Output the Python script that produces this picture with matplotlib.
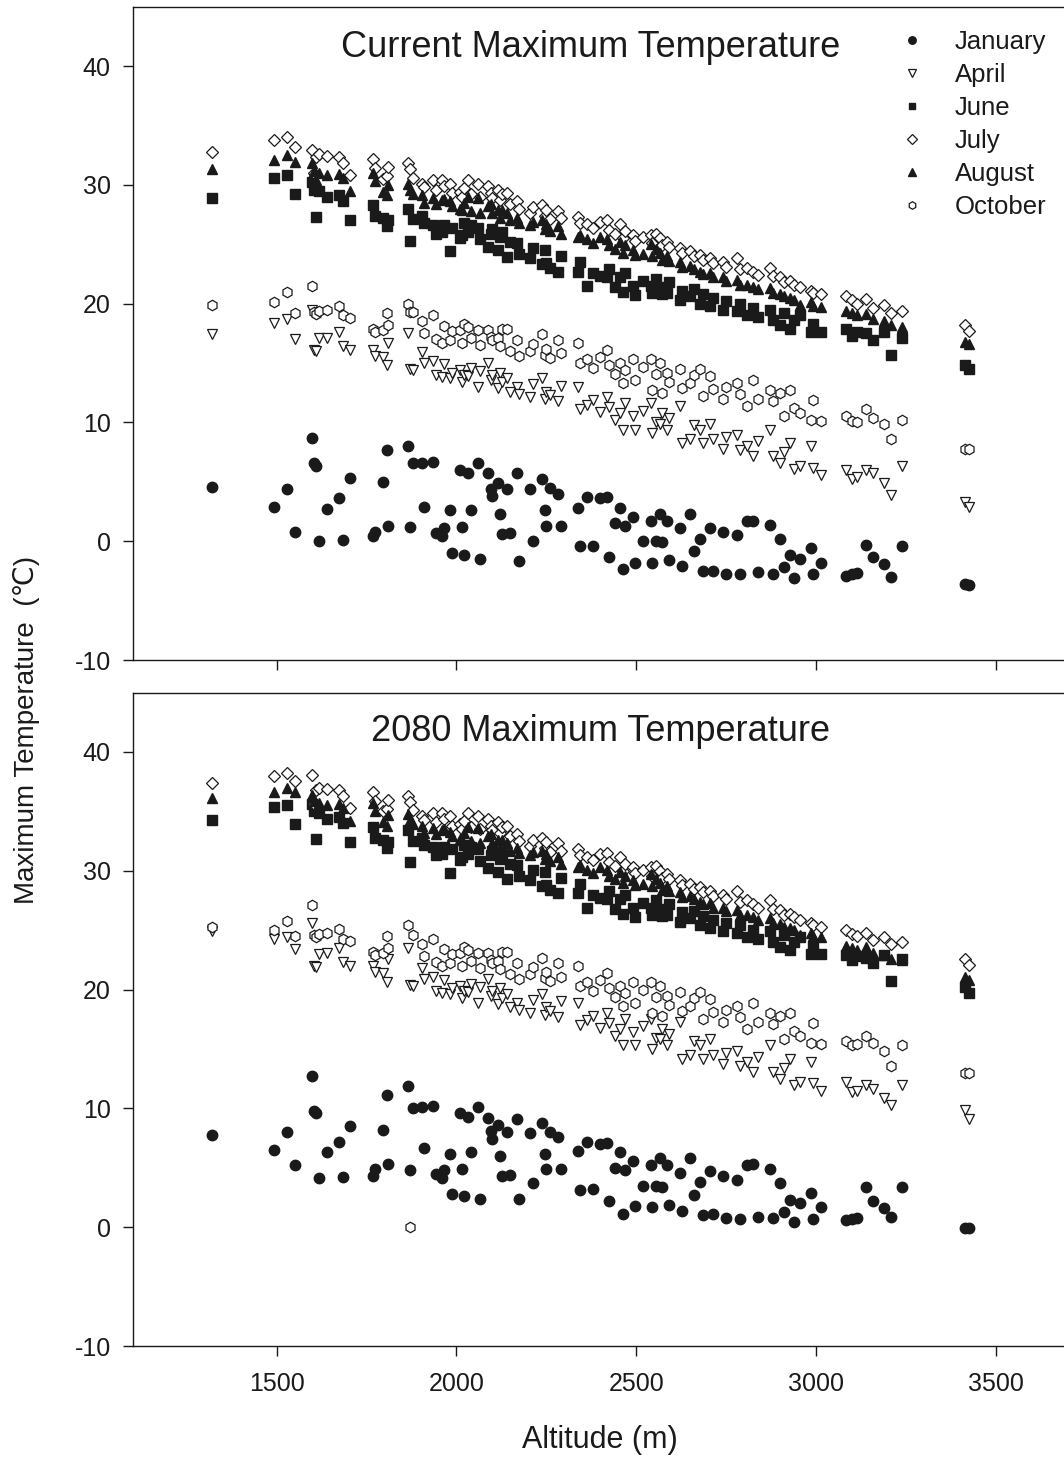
import matplotlib
matplotlib.use("Agg")
import matplotlib.pyplot as plt

plt.rcParams['font.family'] = ['Liberation Sans', 'DejaVu Sans']
plt.rcParams['axes.unicode_minus'] = False

# station altitudes (m), shared by every month and both panels
altitude = [1320, 1492, 1528, 1550, 1598, 1603, 1608, 1617, 1640, 1673,
            1684, 1703, 1767, 1772, 1795, 1806, 1810, 1865, 1870, 1879,
            1903, 1910, 1935, 1942, 1959, 1965, 1982, 1988, 2010, 2015,
            2020, 2032, 2040, 2060, 2066, 2088, 2095, 2100, 2116, 2122,
            2128, 2140, 2150, 2168, 2175, 2205, 2212, 2238, 2245, 2250,
            2260, 2283, 2290, 2339, 2345, 2364, 2380, 2400, 2419, 2425,
            2440, 2455, 2462, 2470, 2492, 2498, 2520, 2540, 2545, 2555,
            2567, 2572, 2586, 2592, 2622, 2628, 2650, 2660, 2678, 2685,
            2706, 2715, 2742, 2750, 2780, 2788, 2808, 2826, 2840, 2873,
            2880, 2901, 2910, 2929, 2940, 2957, 2985, 2992, 3013,
            3085, 3100, 3115, 3140, 3160, 3190, 3210, 3240,
            3415, 3425]

# ---- current maximum temperature ----
jan_now = [4.6, 2.9, 4.4, 0.8, 8.7, 6.6, 6.3, 0.0, 2.7, 3.6,
           0.1, 5.3, 0.4, 0.8, 5.0, 7.7, 1.3, 8.0, 1.2, 6.6,
           6.6, 2.9, 6.7, 0.7, 0.4, 1.1, 2.6, -1.0, 6.0, 1.2,
           -1.2, 5.7, 2.6, 6.6, -1.5, 5.7, 4.4, 3.8, 4.9, 2.3,
           0.6, 4.4, 0.7, 5.7, -1.7, 4.4, 0.0, 5.2, 2.6, 1.3,
           4.5, 4.0, 1.3, 2.8, -0.4, 3.7, -0.4, 3.6, 3.7, -1.3,
           1.5, 2.8, -2.3, 1.3, 2.0, -1.8, 0.0, 1.7, -1.8, 0.0,
           2.3, -0.1, 1.7, -1.6, 1.1, -2.1, 2.3, -0.8, 0.2, -2.5,
           1.1, -2.5, 0.8, -2.8, 0.5, -2.8, 1.7, 1.7, -2.6, 1.4,
           -2.8, 0.2, -2.2, -1.2, -3.1, -1.5, -0.6, -2.8, -1.8,
           -2.9, -2.8, -2.7, -0.3, -1.3, -1.9, -3.0, -0.4,
           -3.6, -3.7]
apr_now = [17.4, 18.4, 18.7, 17.0, 19.5, 16.1, 16.0, 17.1, 17.1, 17.6,
           16.4, 16.1, 16.1, 15.6, 15.5, 14.8, 16.7, 17.5, 14.5, 14.4,
           15.9, 15.0, 15.2, 14.0, 13.8, 14.9, 13.7, 14.2, 14.4, 13.4,
           14.0, 13.9, 14.6, 13.0, 14.3, 15.0, 13.6, 14.0, 12.9, 14.2,
           13.4, 13.7, 12.6, 13.0, 12.4, 12.1, 13.2, 13.7, 12.0, 12.6,
           12.3, 11.8, 13.1, 13.0, 11.1, 11.5, 11.9, 10.9, 12.1, 11.3,
           10.2, 10.8, 9.4, 11.6, 10.5, 9.4, 11.0, 11.6, 9.1, 10.0,
           9.9, 10.8, 9.4, 10.4, 11.4, 8.3, 8.6, 9.8, 9.4, 8.3,
           9.9, 8.6, 7.8, 8.8, 8.9, 7.7, 8.0, 7.2, 8.4, 9.4,
           7.2, 6.6, 7.5, 8.3, 6.1, 6.3, 8.0, 6.2, 5.6,
           6.0, 5.2, 5.4, 6.0, 5.7, 4.9, 3.9, 6.3,
           3.3, 2.9]
jun_now = [28.9, 30.6, 30.8, 29.2, 30.2, 29.6, 27.3, 29.5, 29.0, 29.1,
           28.6, 27.0, 28.3, 27.4, 27.2, 26.5, 27.0, 28.0, 25.3, 27.1,
           27.4, 26.8, 26.6, 25.9, 26.0, 26.6, 24.4, 26.4, 25.5, 25.8,
           26.8, 26.0, 26.6, 26.4, 25.4, 24.8, 25.9, 26.3, 24.5, 25.6,
           26.0, 23.9, 25.2, 25.1, 24.2, 23.8, 24.7, 23.3, 24.5, 23.4,
           23.0, 22.7, 24.0, 22.7, 23.5, 21.5, 22.6, 22.3, 22.2, 22.9,
           21.4, 22.2, 21.0, 22.6, 21.5, 20.7, 21.9, 21.5, 20.9, 22.1,
           21.4, 20.8, 20.9, 21.8, 20.3, 21.1, 20.6, 21.2, 20.0, 20.8,
           19.8, 20.5, 19.5, 20.2, 19.4, 20.0, 19.0, 19.6, 18.9, 19.5,
           18.6, 18.2, 19.2, 17.9, 18.6, 19.0, 17.6, 18.3, 17.6,
           17.9, 17.3, 17.6, 17.5, 16.9, 17.6, 15.7, 17.1,
           14.8, 14.5]
jul_now = [32.8, 33.8, 34.0, 33.2, 32.9, 31.0, 32.3, 32.6, 32.4, 32.3,
           31.8, 30.8, 32.2, 31.4, 30.5, 30.7, 31.5, 31.8, 31.3, 30.6,
           30.1, 29.8, 30.4, 29.6, 30.4, 29.9, 30.1, 29.3, 29.4, 29.0,
           29.7, 30.4, 29.2, 30.1, 29.0, 29.9, 29.3, 28.9, 29.6, 28.7,
           29.2, 29.3, 28.4, 28.6, 28.0, 27.6, 28.1, 28.3, 27.4, 27.9,
           27.1, 27.8, 27.2, 27.3, 26.8, 26.7, 26.4, 26.9, 27.0, 26.2,
           25.9, 26.7, 25.5, 26.1, 25.8, 25.3, 25.6, 25.8, 25.1, 25.9,
           25.5, 24.9, 25.2, 24.8, 24.7, 24.3, 24.4, 24.0, 24.1, 23.7,
           23.8, 23.4, 23.5, 23.1, 23.8, 22.9, 23.0, 22.7, 22.4, 23.0,
           22.3, 22.2, 21.8, 21.9, 21.6, 21.4, 21.1, 20.9, 20.8,
           20.6, 20.3, 20.0, 20.4, 19.6, 19.9, 19.2, 19.4,
           18.2, 17.7]
aug_now = [31.3, 32.1, 32.5, 31.9, 31.8, 31.2, 30.4, 31.0, 30.8, 30.9,
           30.6, 29.5, 31.0, 30.3, 29.4, 29.1, 30.0, 30.1, 29.6, 29.2,
           29.1, 28.5, 28.9, 28.4, 28.7, 28.8, 28.6, 28.2, 28.0, 27.9,
           28.5, 29.0, 27.8, 28.9, 27.6, 28.2, 28.4, 27.6, 27.9, 27.2,
           27.9, 27.6, 27.0, 27.2, 26.8, 26.6, 26.9, 27.0, 26.3, 26.7,
           26.1, 26.5, 25.9, 25.6, 25.8, 25.4, 25.1, 25.6, 25.4, 24.9,
           24.6, 25.2, 24.3, 24.9, 24.5, 24.1, 24.2, 25.0, 24.0, 24.6,
           24.3, 23.7, 24.0, 23.6, 23.5, 23.1, 23.2, 22.9, 22.7, 22.5,
           22.6, 22.2, 22.2, 21.9, 22.0, 21.6, 21.6, 21.4, 21.2, 21.3,
           20.9, 20.8, 20.6, 20.5, 20.3, 19.9, 20.1, 19.8, 19.7,
           19.4, 19.2, 19.0, 19.1, 18.7, 18.5, 18.2, 18.0,
           16.8, 16.6]
oct_now = [19.9, 20.1, 21.0, 19.2, 21.5, 19.3, 19.1, 19.4, 19.5, 19.8,
           19.0, 18.8, 17.9, 17.6, 17.8, 19.2, 18.2, 20.0, 19.3, 19.3,
           18.5, 17.5, 19.0, 17.0, 16.7, 18.1, 16.9, 17.7, 17.8, 16.7,
           18.3, 18.0, 17.1, 17.8, 16.5, 17.8, 17.2, 16.9, 17.1, 16.4,
           17.9, 17.9, 16.0, 16.9, 15.6, 16.0, 16.6, 17.4, 15.7, 16.2,
           15.4, 16.9, 15.8, 16.7, 15.0, 15.3, 14.6, 15.5, 16.1, 14.8,
           14.1, 15.0, 13.3, 14.4, 15.3, 13.6, 14.7, 15.3, 12.7, 14.1,
           15.0, 12.5, 14.2, 13.4, 14.5, 12.9, 13.3, 14.0, 14.5, 12.2,
           13.9, 12.8, 12.0, 13.0, 13.3, 12.4, 11.4, 13.6, 12.0, 12.7,
           11.8, 12.5, 10.5, 12.7, 11.2, 10.8, 10.2, 11.9, 10.1,
           10.5, 10.1, 10.0, 11.1, 10.4, 9.9, 8.6, 10.2,
           7.8, 7.8]

# ---- 2080 maximum temperature ----
jan_2080 = [7.8, 6.5, 8.0, 5.2, 12.7, 9.8, 9.6, 4.1, 6.3, 7.2,
            4.2, 8.5, 4.3, 4.9, 8.2, 11.1, 5.3, 11.9, 4.8, 10.0,
            10.1, 6.7, 10.2, 4.5, 4.1, 4.8, 6.2, 2.8, 9.6, 4.9,
            2.6, 9.3, 6.3, 10.1, 2.4, 9.2, 8.1, 7.4, 8.6, 6.0,
            4.3, 8.0, 4.4, 9.1, 2.4, 7.9, 3.7, 8.8, 6.2, 4.9,
            8.0, 7.6, 4.9, 6.4, 3.1, 7.2, 3.2, 7.0, 7.1, 2.2,
            5.0, 6.3, 1.1, 4.8, 5.6, 1.8, 3.5, 5.2, 1.7, 3.5,
            5.8, 3.4, 5.2, 1.9, 4.6, 1.4, 5.8, 2.7, 3.8, 1.0,
            4.7, 1.1, 4.3, 0.8, 4.0, 0.7, 5.2, 5.3, 0.9, 4.9,
            0.8, 3.7, 1.3, 2.3, 0.4, 2.0, 2.9, 0.7, 1.7,
            0.6, 0.7, 0.8, 3.4, 2.2, 1.6, 0.9, 3.4,
            -0.1, -0.1]
apr_2080 = [24.9, 24.3, 24.4, 23.4, 25.6, 22.0, 21.9, 23.0, 23.1, 23.5,
            22.3, 22.0, 22.0, 21.5, 21.4, 20.6, 22.6, 23.5, 20.4, 20.3,
            21.8, 20.9, 21.1, 19.9, 19.7, 20.8, 19.6, 20.1, 20.3, 19.3,
            19.9, 19.8, 20.5, 18.9, 20.2, 20.9, 19.5, 19.9, 18.8, 20.1,
            19.3, 19.6, 18.5, 18.9, 18.3, 18.0, 19.1, 19.6, 17.9, 18.5,
            18.2, 17.7, 19.0, 18.9, 17.0, 17.4, 17.8, 16.8, 18.0, 17.2,
            16.1, 16.7, 15.3, 17.5, 16.4, 15.3, 16.9, 17.5, 15.0, 15.9,
            15.8, 16.7, 15.3, 16.3, 17.3, 14.2, 14.5, 15.7, 15.3, 14.2,
            15.8, 14.5, 13.7, 14.7, 14.8, 13.6, 13.9, 13.1, 14.3, 15.3,
            13.1, 12.5, 13.4, 14.2, 12.0, 12.2, 13.9, 12.1, 11.5,
            12.2, 11.4, 11.5, 12.0, 11.6, 10.9, 10.3, 12.0,
            9.9, 9.1]
jun_2080 = [34.3, 35.4, 35.5, 33.9, 35.6, 35.0, 32.7, 34.9, 34.4, 34.5,
            34.0, 32.4, 33.7, 32.8, 32.6, 31.9, 32.4, 33.4, 30.7, 32.5,
            32.8, 32.2, 32.0, 31.3, 31.4, 32.0, 29.8, 31.8, 30.9, 31.2,
            32.2, 31.4, 32.0, 31.8, 30.8, 30.2, 31.3, 31.7, 29.9, 31.0,
            31.4, 29.3, 30.6, 30.5, 29.6, 29.2, 30.1, 28.7, 29.9, 28.8,
            28.4, 28.1, 29.4, 28.1, 28.9, 26.9, 28.0, 27.7, 27.6, 28.3,
            26.8, 27.6, 26.4, 28.0, 26.9, 26.1, 27.3, 26.9, 26.3, 27.5,
            26.8, 26.2, 26.3, 27.2, 25.7, 26.5, 26.0, 26.6, 25.4, 26.2,
            25.2, 25.9, 24.9, 25.6, 24.8, 25.4, 24.4, 25.0, 24.3, 24.9,
            24.0, 23.6, 24.6, 23.3, 24.0, 24.4, 23.0, 23.7, 23.0,
            22.9, 22.5, 22.8, 22.7, 22.2, 22.9, 20.7, 22.6,
            20.2, 19.7]
jul_2080 = [37.4, 38.0, 38.2, 37.6, 38.1, 35.6, 36.8, 37.0, 36.9, 36.8,
            36.3, 35.3, 36.6, 35.9, 35.0, 35.2, 36.0, 36.3, 35.8, 35.1,
            34.6, 34.3, 34.9, 34.1, 34.9, 34.4, 34.6, 33.8, 33.9, 33.5,
            34.2, 34.9, 33.7, 34.6, 33.5, 34.4, 33.8, 33.4, 34.1, 33.2,
            33.7, 33.8, 32.9, 33.1, 32.5, 32.1, 32.6, 32.8, 31.9, 32.4,
            31.6, 32.3, 31.7, 31.8, 31.3, 31.2, 30.9, 31.4, 31.5, 30.7,
            30.4, 31.2, 30.0, 30.6, 30.3, 29.8, 30.1, 30.3, 29.6, 30.4,
            30.0, 29.4, 29.7, 29.3, 29.2, 28.8, 28.9, 28.5, 28.6, 28.2,
            28.3, 27.9, 28.0, 27.6, 28.3, 27.4, 27.5, 27.2, 26.9, 27.5,
            26.8, 26.7, 26.3, 26.4, 26.1, 25.9, 25.6, 25.4, 25.3,
            25.0, 24.7, 24.5, 24.8, 24.2, 24.4, 23.8, 24.0,
            22.6, 22.1]
aug_2080 = [36.1, 36.6, 37.0, 36.6, 36.4, 35.9, 35.1, 35.7, 35.5, 35.6,
            35.3, 34.2, 35.7, 35.0, 34.1, 33.8, 34.7, 34.8, 34.3, 33.9,
            33.8, 33.2, 33.6, 33.1, 33.4, 33.5, 33.3, 32.9, 32.7, 32.6,
            33.2, 33.7, 32.5, 33.6, 32.3, 32.9, 33.1, 32.3, 32.6, 31.9,
            32.6, 32.3, 31.7, 31.9, 31.5, 31.3, 31.6, 31.7, 31.0, 31.4,
            30.8, 31.2, 30.6, 30.3, 30.5, 30.1, 29.8, 30.3, 30.1, 29.6,
            29.3, 29.9, 29.0, 29.6, 29.2, 28.8, 28.9, 29.7, 28.7, 29.3,
            29.0, 28.4, 28.7, 28.3, 28.2, 27.8, 27.9, 27.6, 27.4, 27.2,
            27.3, 26.9, 26.9, 26.6, 26.7, 26.3, 26.3, 26.1, 25.9, 26.0,
            25.6, 25.5, 25.3, 25.2, 25.0, 24.6, 24.8, 24.5, 24.4,
            23.7, 23.5, 23.3, 23.6, 23.1, 22.9, 22.6, 22.5,
            21.1, 20.8]
oct_2080 = [25.3, 25.0, 25.8, 24.5, 27.1, 24.6, 24.4, 24.7, 24.8, 25.1,
            24.3, 24.1, 23.2, 22.9, 23.1, 24.5, 23.5, 25.4, 0.0, 24.6,
            23.8, 22.8, 24.3, 22.3, 22.0, 23.4, 22.2, 23.0, 23.1, 22.0,
            23.6, 23.3, 22.4, 23.1, 21.8, 23.1, 22.5, 22.2, 22.4, 21.7,
            23.2, 23.2, 21.3, 22.2, 20.9, 21.3, 21.9, 22.7, 21.0, 21.5,
            20.7, 22.2, 21.1, 22.0, 20.3, 20.6, 19.9, 20.8, 21.4, 20.1,
            19.4, 20.3, 18.6, 19.7, 20.6, 18.9, 20.0, 20.6, 18.0, 19.4,
            20.3, 17.8, 19.5, 18.7, 19.8, 18.2, 18.6, 19.3, 19.8, 17.5,
            19.2, 18.1, 17.3, 18.3, 18.6, 17.7, 16.7, 18.9, 17.3, 18.0,
            17.1, 17.8, 15.8, 18.0, 16.5, 16.1, 15.5, 17.2, 15.4,
            15.7, 15.3, 15.4, 16.1, 15.5, 14.8, 13.6, 15.3,
            13.0, 13.0]

months = ["January", "April", "June", "July", "August", "October"]
now_series = [jan_now, apr_now, jun_now, jul_now, aug_now, oct_now]
future_series = [jan_2080, apr_2080, jun_2080, jul_2080, aug_2080, oct_2080]

ink = "#1a1a1a"
styles = [
    dict(marker="o", ms=7.5, mfc=ink, mec=ink),
    dict(marker="v", ms=7.5, mfc="white", mec=ink, mew=0.9),
    dict(marker="s", ms=6.5, mfc=ink, mec=ink),
    dict(marker="D", ms=6.5, mfc="white", mec=ink, mew=0.9),
    dict(marker="^", ms=7.5, mfc=ink, mec=ink),
    dict(marker="h", ms=7.5, mfc="white", mec=ink, mew=0.9),
]

W, H = 1064, 1461
fig = plt.figure(figsize=(W / 100, H / 100), dpi=100)
left = 133 / W
width = (1067.5 - 133) / W
ax1 = fig.add_axes([left, 1 - 660 / H, width, (660 - 6.6) / H])
ax2 = fig.add_axes([left, 1 - 1346 / H, width, (1346 - 692.6) / H])

for ax, series in ((ax1, now_series), (ax2, future_series)):
    for name, vals, st in zip(months, series, styles):
        ax.plot(altitude, vals, linestyle="none", label=name, **st)
    ax.set_xlim(1100, 3700)
    ax.set_ylim(-10, 45)
    ax.set_yticks([-10, 0, 10, 20, 30, 40])
    ax.set_xticks([1500, 2000, 2500, 3000, 3500])
    ax.tick_params(direction="out", length=7, width=1.0, labelsize=18,
                   colors=ink)
    ax.tick_params(axis="y", pad=9)
    ax.tick_params(axis="x", pad=12)
    for sp in ax.spines.values():
        sp.set_linewidth(1.0)
        sp.set_color(ink)

ax1.tick_params(axis="x", labelbottom=False)
ax1.text(0.49, 0.937, "Current Maximum Temperature", transform=ax1.transAxes,
         ha="center", va="center", fontsize=26, color=ink)
ax2.text(0.50, 0.941, "2080 Maximum Temperature", transform=ax2.transAxes,
         ha="center", va="center", fontsize=26, color=ink)

leg = ax1.legend(loc="upper left", bbox_to_anchor=(901 / W, 1 - 30 / H),
                 bbox_transform=fig.transFigure, frameon=False, fontsize=18.5,
                 handlelength=0.85, handletextpad=1.25, labelspacing=0.35,
                 borderpad=0, borderaxespad=0, markerscale=0.72)
for t in leg.get_texts():
    t.set_color(ink)

fig.text(27 / W, 1 - 730 / H, "Maximum Temperature  (\u2103)", rotation=90,
         ha="center", va="center", fontsize=20, color=ink)
fig.text(600 / W, 1 - 1440 / H, "Altitude (m)", ha="center", va="center",
         fontsize=22, color=ink)

fig.savefig("out.png", dpi=100)
